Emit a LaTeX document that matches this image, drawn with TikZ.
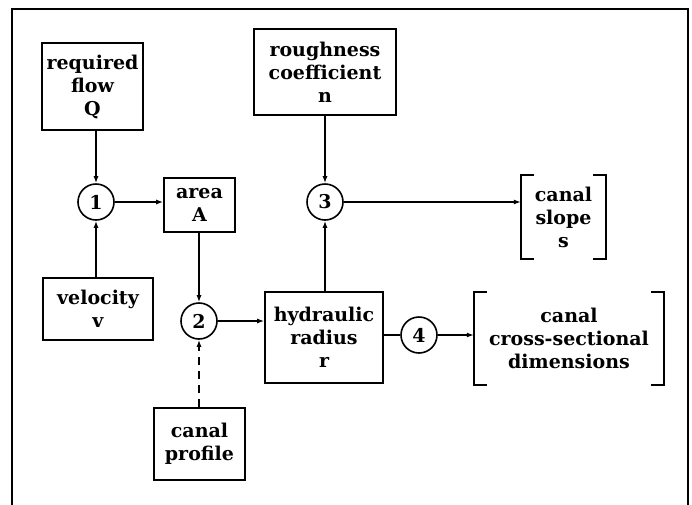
\documentclass[tikz,border=0pt]{standalone}
\usepackage{fontspec}
\setmainfont{DejaVu Serif}
\usepackage{tikz}
\usetikzlibrary{arrows.meta, positioning, calc}
\tikzset{
  box/.style    = {rectangle, draw, line width=1.6pt, align=center,
                   inner sep=0pt, font=\bfseries\fontsize{19}{23}\selectfont},
  junc/.style   = {circle, draw, line width=1.6pt, minimum size=36pt,
                   inner sep=0pt, font=\bfseries\fontsize{19}{23}\selectfont},
  result/.style = {rectangle, align=center, inner sep=0pt,
                   font=\bfseries\fontsize{19}{23}\selectfont},
  arrow/.style  = {-{Latex[length=7pt,width=5pt]}, line width=1.3pt},
  plain/.style  = {line width=1.3pt},
  dline/.style  = {arrow, dash pattern=on 8pt off 6pt},
  brak/.style   = {line width=1.6pt},
}
\begin{document}
\begin{tikzpicture}[x=1pt, y=-1pt]
  \useasboundingbox (0,0) rectangle (692,504);

  % ---- frame ----
  \draw[line width=2.2pt] (12,510) -- (12,9) -- (688,9) -- (688,510);

  % ---- inputs ----
  \node[box, minimum width=101pt, minimum height=87pt] (flow) at (92.5,86.5)
        {required\\flow\\Q};
  \node[box, minimum width=110pt, minimum height=62pt] (velo) at (98,309)
        {velocity\\v};
  \node[box, minimum width=142pt, minimum height=86pt] (rough) at (325,72)
        {roughness\\coefficient\\n};
  \node[box, minimum width=91pt, minimum height=72pt] (prof) at (199.5,444)
        {canal\\profile};

  % ---- intermediate ----
  \node[box, minimum width=71pt, minimum height=54pt] (area) at (199.5,205)
        {area\\A};
  \node[box, minimum width=118pt, minimum height=91pt] (hydr) at (324,337.5)
        {hydraulic\\radius\\r};

  % ---- junctions ----
  \node[junc] (c1) at (96,202)  {1};
  \node[junc] (c2) at (199,321) {2};
  \node[junc] (c3) at (325,202) {3};
  \node[junc] (c4) at (419,335) {4};

  % ---- results ----
  \node[result, minimum width=85pt, minimum height=84pt] (slope) at (563.5,217)
        {canal\\slope\\s};
  \node[result, minimum width=190pt, minimum height=93pt] (cross) at (569,338.5)
        {canal\\cross-sectional\\dimensions};
  \foreach \b in {slope, cross} {
    \draw[brak] ([xshift=13pt]\b.north west) -| (\b.south west) -- ++(13pt,0);
    \draw[brak] ([xshift=-13pt]\b.north east) -| (\b.south east) -- ++(-13pt,0);
  }

  % arrows
  \foreach \a/\b in {flow.south/c1, velo.north/c1, area.south/c2,
                     rough.south/c3, hydr.north/c3}
    \draw[arrow] (\a -| \b) -- (\b);
  \foreach \a/\b in {c1/area.west, c2/hydr.west, c3/slope.west, c4/cross.west}
    \draw[arrow] (\a) -- (\a -| \b);
  \draw[dline] (prof.north -| c2) -- (c2);
  \draw[plain] (hydr.east |- c4) -- (c4);

\end{tikzpicture}
\end{document}
